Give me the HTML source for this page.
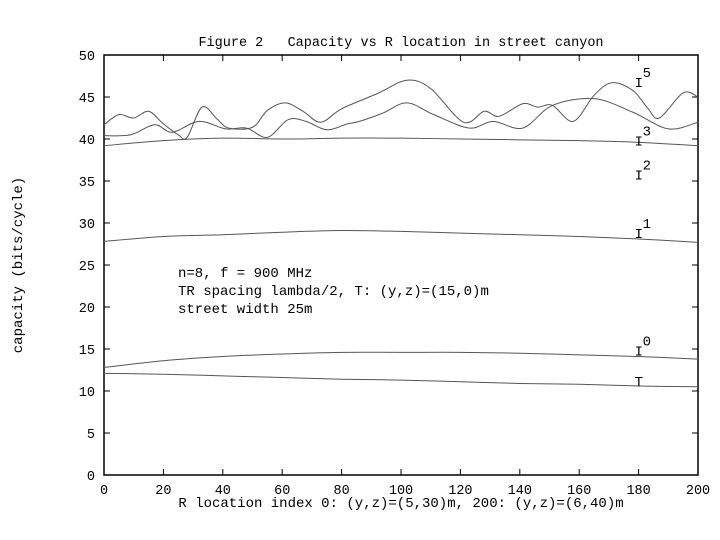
<!DOCTYPE html>
<html><head><meta charset="utf-8"><style>
html,body{margin:0;padding:0;background:#fff;}
svg{display:block;font-family:"Liberation Mono",monospace;}
text{white-space:pre;}
</style></head><body>
<svg id="chart" width="720" height="540" viewBox="0 0 720 540" xmlns="http://www.w3.org/2000/svg">
<rect width="720" height="540" fill="#fff"/>
<text x="401" y="46" font-size="13.5" text-anchor="middle" xml:space="preserve">Figure 2   Capacity vs R location in street canyon</text>
<text x="401" y="507" font-size="14" text-anchor="middle">R location index 0: (y,z)=(5,30)m, 200: (y,z)=(6,40)m</text>
<text transform="translate(22,265) rotate(-90)" font-size="14" text-anchor="middle">capacity (bits/cycle)</text>
<g font-size="14">
<text x="178" y="277">n=8, f = 900 MHz</text>
<text x="178" y="295">TR spacing lambda/2, T: (y,z)=(15,0)m</text>
<text x="178" y="313">street width 25m</text>
</g>
<g id="axes"></g>
<g id="series" fill="none" stroke="#555" stroke-width="1"></g>
<g id="labels" font-size="14"></g>
</svg>
<script>
const xTicks=[0,20,40,60,80,100,120,140,160,180,200];
const yTicks=[0,5,10,15,20,25,30,35,40,45,50];
const idxA=[0,5,10,15,20,25,28,33,38,42,50,55,61,67,73,80,92,102,110,121,128,133,141,146,151,158,165,171,178,183,187,195,200];
const valA=[41.7,42.9,42.5,43.3,41.8,40.5,40.2,43.8,42.4,41.3,41.4,43.4,44.3,43.3,42.0,43.6,45.4,47.0,46.0,42.0,43.3,42.7,44.2,43.8,44.0,42.1,45.2,46.7,45.8,43.7,42.5,45.5,45.0];
const idxB=[0,9,17,23,32,41,48,55,62,68,75,82,86,94,102,111,123,131,141,151,165,178,190,200];
const valB=[40.4,40.5,41.7,40.8,42.1,41.2,41.3,40.2,42.3,42.1,41.1,41.8,42.1,43.1,44.3,42.9,41.3,42.1,41.3,44.0,44.8,43.2,41.2,42.0];
const idxF=[0,20,40,60,80,100,120,140,160,180,200];
const valI3=[39.2,39.8,40.1,40.0,40.1,40.1,40.0,39.9,39.8,39.6,39.2];
const valI1=[27.8,28.4,28.6,28.9,29.1,29.0,28.8,28.6,28.4,28.1,27.7];
const valI0=[12.8,13.6,14.1,14.4,14.6,14.6,14.6,14.5,14.3,14.1,13.8];
const valT=[12.1,12.0,11.8,11.6,11.4,11.3,11.1,10.9,10.8,10.6,10.5];
const labelNames=["T","I","I","I","I","I"];
const labelSups=["","0","1","2","3","5"];
const labelVals=[11.2,14.8,28.8,35.8,39.8,46.8];

const X0=104,X1=698,Y0=475,Y1=55;
const sx=v=>X0+(X1-X0)*v/200;
const sy=v=>Y0-(Y0-Y1)*v/50;
const NS="http://www.w3.org/2000/svg";
function mk(tag,parent){const e=document.createElementNS(NS,tag);parent.appendChild(e);return e;}
const axes=document.getElementById('axes');
const frame=mk('rect',axes);


frame.setAttribute('x',X0);frame.setAttribute('y',Y1);frame.setAttribute('width',X1-X0);frame.setAttribute('height',Y0-Y1);
frame.setAttribute('fill','none');frame.setAttribute('stroke','#000');frame.setAttribute('stroke-width','1.5');
xTicks.forEach(t=>{
  const x=sx(t);
  const l=mk('path',axes);
  
  
  l.setAttribute('d',`M${x},${Y0}v-6M${x},${Y1}v6`);l.setAttribute('stroke','#000');
  const tx=mk('text',axes);
  
  
  tx.setAttribute('x',x);tx.setAttribute('y',Y0+19);tx.setAttribute('font-size','13.5');tx.setAttribute('text-anchor','middle');tx.textContent=t;
});
yTicks.forEach(t=>{
  const y=sy(t);
  const l=mk('path',axes);
  
  
  l.setAttribute('d',`M${X0},${y}h6M${X1},${y}h-6`);l.setAttribute('stroke','#000');
  const tx=mk('text',axes);
  
  
  tx.setAttribute('x',X0-9);tx.setAttribute('y',y+5);tx.setAttribute('font-size','13.5');tx.setAttribute('text-anchor','end');tx.textContent=t;
});
function smooth(xs,ys){
  const p=xs.map((x,i)=>[sx(x),sy(ys[i])]);
  let d=`M${p[0][0]},${p[0][1]}`;
  for(let i=0;i<p.length-1;i++){
    const a=p[Math.max(0,i-1)],b=p[i],c=p[i+1],e=p[Math.min(p.length-1,i+2)];
    const c1=[b[0]+(c[0]-a[0])/6,b[1]+(c[1]-a[1])/6],c2=[c[0]-(e[0]-b[0])/6,c[1]-(e[1]-b[1])/6];
    d+=`C${c1[0]},${c1[1]} ${c2[0]},${c2[1]} ${c[0]},${c[1]}`;
  }
  return d;
}
const ser=document.getElementById('series');
const defs=[["series-i5-a",idxA,valA],["series-i5-b",idxB,valB],["series-i3",idxF,valI3],["series-i1",idxF,valI1],["series-i0",idxF,valI0],["series-t",idxF,valT]];
defs.forEach(([n,xs,ys])=>{
  const p=mk('path',ser);
  
  
  p.setAttribute('d',smooth(xs,ys));
});
const lab=document.getElementById('labels');
labelNames.forEach((n,i)=>{
  const t=mk('text',lab);
  
  
  t.setAttribute('x',sx(180)-4);t.setAttribute('y',sy(labelVals[i])+5);
  t.textContent=n;
  if(labelSups[i]){
    const s=mk('text',lab);
    
    
    s.setAttribute('x',sx(180)+4);s.setAttribute('y',sy(labelVals[i])-5);
    s.textContent=labelSups[i];
  }
});
</script>
</body></html>
